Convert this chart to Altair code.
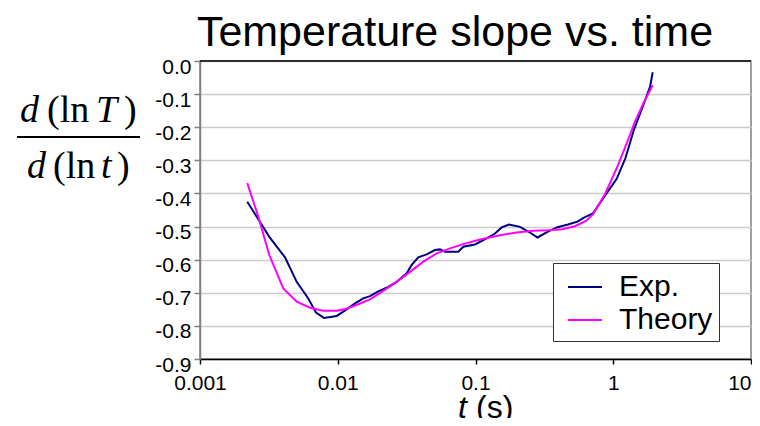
import altair as alt
import pandas as pd

# ---- data ----
exp_t = [0.002204, 0.002650, 0.003184, 0.004141, 0.005035, 0.006112, 0.006953, 0.007947,
         0.009826, 0.01161, 0.01334, 0.01532, 0.01714, 0.01970, 0.02328, 0.02679, 0.03166,
         0.03442, 0.03843, 0.04421, 0.05082, 0.05525, 0.06006, 0.07500, 0.08153, 0.09918,
         0.1206, 0.1386, 0.1557, 0.1750, 0.2104, 0.2486, 0.2818, 0.3333, 0.3938, 0.4694,
         0.5500, 0.6135, 0.7129, 0.8468, 1.059, 1.227, 1.414, 1.652, 1.849, 1.934]
exp_v = [-0.425, -0.478, -0.531, -0.593, -0.667, -0.717, -0.760, -0.776,
         -0.770, -0.750, -0.732, -0.717, -0.710, -0.696, -0.682, -0.667, -0.641,
         -0.616, -0.593, -0.584, -0.571, -0.569, -0.576, -0.576, -0.561, -0.554,
         -0.536, -0.521, -0.502, -0.494, -0.501, -0.518, -0.533, -0.516, -0.502, -0.494,
         -0.485, -0.473, -0.460, -0.414, -0.356, -0.293, -0.207, -0.133, -0.078, -0.034]

theory_t = [0.002204, 0.002650, 0.003184, 0.004024, 0.005035, 0.006288, 0.007854, 0.009826,
            0.01161, 0.01379, 0.01714, 0.02141, 0.02679, 0.03345, 0.04179, 0.05229, 0.06530,
            0.08153, 0.1078, 0.1506, 0.1991, 0.2628, 0.3361, 0.4245, 0.5277, 0.6342, 0.7165,
            0.8712, 1.059, 1.252, 1.439, 1.652, 1.934]
theory_v = [-0.369, -0.470, -0.586, -0.687, -0.727, -0.745, -0.754, -0.754,
            -0.748, -0.736, -0.720, -0.694, -0.667, -0.637, -0.606, -0.581, -0.566,
            -0.553, -0.539, -0.526, -0.518, -0.513, -0.511, -0.508, -0.499, -0.483, -0.462,
            -0.402, -0.324, -0.249, -0.183, -0.128, -0.073]

series_names = ["Exp.", "Theory"]
series_colors = ["#000080", "#FF00FF"]
x_ticks = [0.001, 0.01, 0.1, 1, 10]
y_ticks = [0.0, -0.1, -0.2, -0.3, -0.4, -0.5, -0.6, -0.7, -0.8, -0.9]

df = pd.concat([
    pd.DataFrame({"t": exp_t, "v": exp_v, "series": series_names[0]}),
    pd.DataFrame({"t": theory_t, "v": theory_v, "series": series_names[1]}),
], ignore_index=True)

W, H = 551, 298

lines = alt.Chart(df).mark_line(strokeWidth=2).encode(
    x=alt.X("t:Q",
            scale=alt.Scale(type="log", domain=[0.001, 10]),
            axis=alt.Axis(values=x_ticks, format="~g", title=None, grid=False,
                          domainColor="black", domainWidth=1.5, tickColor="black",
                          tickSize=5, tickWidth=1.5, labelFontSize=21,
                          labelFont="Liberation Sans", labelColor="black", labelPadding=8,
                          labelAlign={"condition": {"test": "datum.value >= 9", "value": "right"},
                                      "value": "center"})),
    y=alt.Y("v:Q",
            scale=alt.Scale(domain=[-0.9, 0], nice=False, zero=False),
            axis=alt.Axis(values=y_ticks, title=None, grid=True, gridColor="#cccccc",
                          gridWidth=1.5, domainColor="#808080", domainWidth=1.5,
                          tickColor="#808080", tickSize=6, tickWidth=1.5,
                          labelFontSize=21, labelFont="Liberation Sans", labelColor="black",
                          labelPadding=3, labelOffset=6,
                          labelExpr="(datum.value < -0.001 ? '-' : '') + format(abs(datum.value), '.1f')")),
    color=alt.Color("series:N",
                    scale=alt.Scale(domain=series_names, range=series_colors),
                    legend=alt.Legend(title=None, orient="none", legendX=353, legendY=202,
                                      direction="vertical", strokeColor="#333333",
                                      fillColor="white", padding=6, symbolType="stroke",
                                      symbolSize=1156, symbolStrokeWidth=2, symbolOffset=8,
                                      labelOffset=16, labelFontSize=30,
                                      labelFont="Liberation Sans", labelColor="black",
                                      rowPadding=0, labelLimit=0)),
)


def one():
    return alt.Data(values=[{}])


def txt(s, x, y, size, style="normal", font="Liberation Serif", align="left"):
    return alt.Chart(one()).mark_text(
        text=s, fontSize=size, fontStyle=style, font=font, align=align,
        baseline="alphabetic", color="black"
    ).encode(x=alt.value(x), y=alt.value(y))


top_border = alt.Chart(one()).mark_rule(color="black", strokeWidth=1.5).encode(
    x=alt.value(0), x2=alt.value(W), y=alt.value(0))

title = txt("Temperature slope vs. time", 255, -15, 43, font="Liberation Sans", align="center")

frac_bar = alt.Chart(one()).mark_rule(color="black", strokeWidth=2).encode(
    x=alt.value(-183), x2=alt.value(-60), y=alt.value(76))

fs = 38
frac = [
    txt("d", -180, 61, fs, "italic"),
    txt("(ln", -153, 61, fs),
    txt("T", -104, 61, fs, "italic"),
    txt(")", -76, 61, fs),
    txt("d", -173, 117, fs, "italic"),
    txt("(ln", -147, 117, fs),
    txt("t", -99, 117, fs, "italic"),
    txt(")", -83, 117, fs),
]

xtitle = [
    txt("t", 258, 357, 32, "italic", font="Liberation Sans"),
    txt("(s)", 276, 357, 32, font="Liberation Sans"),
]

chart = alt.layer(lines, top_border, title, frac_bar, *frac, *xtitle).properties(
    width=W, height=H,
    padding={"left": 192, "top": 53, "right": 1, "bottom": 59},
    autosize=alt.AutoSizeParams(type="none"),
).configure_view(stroke="#808080", strokeWidth=1.5)

chart.save("out.html", embed_options={"renderer": "svg", "actions": False})
